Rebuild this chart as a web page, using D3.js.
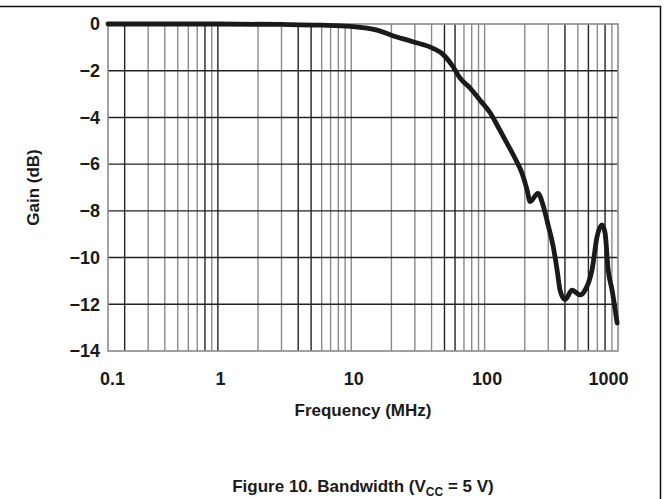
<!DOCTYPE html>
<html lang="en">
<head>
    <meta charset="UTF-8">
    <title>Figure 10. Bandwidth</title>
    <script src="https://d3js.org/d3.v7.min.js"></script>
    <style>
        body {
            margin: 0;
            background: #fff;
            font-family: "Liberation Sans", Arial, sans-serif;
        }
        text {
            font-weight: bold;
            fill: #1a1a1a;
        }
    </style>
</head>
<body>
    <div id="chart"></div>

    <script>
        // data
        const freqMHz = [0.15, 0.5, 1, 3, 6, 9.8, 15.6, 20.5, 29, 41, 48.7, 58, 65, 78, 92, 110, 126, 147, 169, 191, 208,
                         219, 251, 274, 299, 326, 349, 368, 401, 453, 520, 566, 640, 697, 760, 800, 843, 903, 985];
        const gainDb = [0, 0, 0, -0.02, -0.05, -0.1, -0.26, -0.5, -0.76, -1.04, -1.3, -1.83, -2.3, -2.75, -3.25, -3.8, -4.4, -5.1, -5.75, -6.4, -7.1,
                        -7.6, -7.25, -7.75, -8.6, -9.5, -10.5, -11.4, -11.8, -11.4, -11.6, -11.4, -10.5, -9.1, -8.6, -8.95, -10.5, -11.4, -12.8];

        const xTickValues = [0.15, 1, 10, 100, 1000];
        const xTickLabels = ["0.1", "1", "10", "100", "1000"];
        const xGridValues = [0.2, 0.3, 0.4, 0.5, 0.6, 0.7, 0.8, 0.9, 1,
                             2, 3, 4, 5, 6, 7, 8, 9, 10,
                             20, 30, 40, 50, 60, 70, 80, 90, 100,
                             200, 300, 400, 500, 600, 700, 800, 900];
        const yTickValues = [0, -2, -4, -6, -8, -10, -12, -14];

        const W = 669, H = 499;
        const margin = {top: 24, right: 51, bottom: 148, left: 108};
        const width = W - margin.left - margin.right;
        const height = H - margin.top - margin.bottom;

        const svg = d3.select("#chart")
            .append("svg")
            .attr("width", W)
            .attr("height", H);

        // outer frame (top + right)
        svg.append("path")
            .attr("d", `M0,6.5H660.5V${H}`)
            .attr("fill", "none")
            .attr("stroke", "#111")
            .attr("stroke-width", 1.5);

        const g = svg.append("g")
            .attr("transform", `translate(${margin.left},${margin.top})`);

        const x = d3.scaleLog()
            .domain([0.15, 1000])
            .range([0, width]);

        const y = d3.scaleLinear()
            .domain([-14, 0])
            .range([height, 0]);

        // vertical grid
        g.selectAll(".vgrid")
            .data(xGridValues)
            .enter()
            .append("line")
            .attr("x1", d => x(d))
            .attr("x2", d => x(d))
            .attr("y1", 0)
            .attr("y2", height)
            .attr("stroke", (d, i) => [0, 6, 8, 11, 12, 21, 22, 29, 31, 33].includes(i) ? "#222" : "#8a8a8a")
            .attr("stroke-width", 1.4);

        // horizontal grid
        g.selectAll(".hgrid")
            .data(yTickValues.filter(v => v !== -14 && v !== 0))
            .enter()
            .append("line")
            .attr("x1", 0)
            .attr("x2", width)
            .attr("y1", d => y(d))
            .attr("y2", d => y(d))
            .attr("stroke", "#222")
            .attr("stroke-width", 1.4);

        // plot border
        g.append("rect")
            .attr("x", 0)
            .attr("y", 0)
            .attr("width", width)
            .attr("height", height)
            .attr("fill", "none")
            .attr("stroke", "#8a8a8a")
            .attr("stroke-width", 1.6);

        // y axis labels
        const yAxis = g.append("g")
            .call(d3.axisLeft(y).tickValues(yTickValues).tickSize(0).tickPadding(8)
                .tickFormat(d => d === 0 ? "0" : "\u2212" + Math.abs(d)));
        yAxis.select(".domain").remove();
        yAxis.selectAll("text")
            .attr("font-family", "'Liberation Sans', Arial, sans-serif")
            .attr("font-size", 18)
            .attr("font-weight", "bold")
            .attr("fill", "#1a1a1a");

        // x axis labels
        const xAxis = g.append("g")
            .attr("transform", `translate(0,${height})`)
            .call(d3.axisBottom(x).tickValues(xTickValues).tickSize(0).tickPadding(21)
                .tickFormat((d, i) => xTickLabels[i]));
        xAxis.select(".domain").remove();
        xAxis.selectAll("text")
            .attr("font-family", "'Liberation Sans', Arial, sans-serif")
            .attr("font-size", 18)
            .attr("font-weight", "bold")
            .attr("fill", "#1a1a1a")
            .attr("dx", (d, i) => i === 0 ? 4 : (i === xTickValues.length - 1 ? -10 : 2));

        // gain curve
        const pts = freqMHz.map((f, i) => ({f: f, g: gainDb[i]}));
        const line = d3.line()
            .x(d => x(d.f))
            .y(d => y(d.g))
            .curve(d3.curveMonotoneX);

        g.append("path")
            .datum(pts)
            .attr("fill", "none")
            .attr("stroke", "#1a1a1a")
            .attr("stroke-width", 4.8)
            .attr("stroke-linejoin", "round")
            .attr("stroke-linecap", "round")
            .attr("d", line);

        // axis titles
        svg.append("text")
            .attr("transform", `translate(39,${margin.top + height / 2}) rotate(-90)`)
            .attr("text-anchor", "middle")
            .attr("font-size", 17)
            .text("Gain (dB)");

        svg.append("text")
            .attr("x", margin.left + width / 2)
            .attr("y", 416)
            .attr("text-anchor", "middle")
            .attr("font-size", 17)
            .text("Frequency (MHz)");

        // caption
        const cap = svg.append("text")
            .attr("x", margin.left + width / 2)
            .attr("y", 492)
            .attr("text-anchor", "middle")
            .attr("font-size", 17);
        cap.append("tspan").text("Figure 10. Bandwidth (V");
        cap.append("tspan").attr("font-size", 12).attr("dy", 4).text("CC");
        cap.append("tspan").attr("dy", -4).text(" = 5 V)");
    </script>
</body>
</html>
